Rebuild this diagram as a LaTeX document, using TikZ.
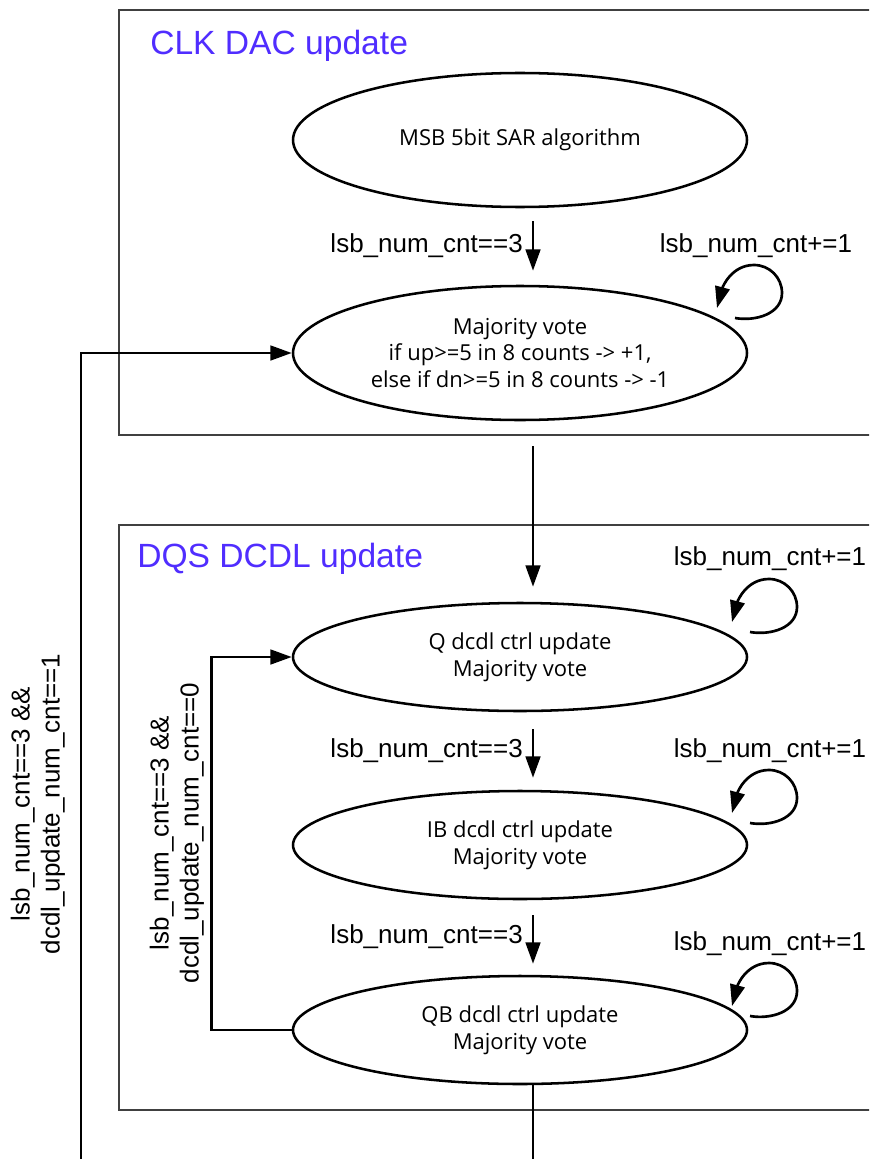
\documentclass[tikz,border=0pt]{standalone}
\usepackage{fontspec}
\setmainfont{Liberation Sans}
\newfontfamily\kfont{Open Sans}
\usetikzlibrary{shapes.geometric,arrows.meta,calc}
\definecolor{hblue}{RGB}{80,45,255}
\definecolor{boxgray}{RGB}{64,64,64}
\begin{document}
\begin{tikzpicture}[x=0.75pt,y=0.75pt,
  state/.style={ellipse, draw, line width=1.9pt, minimum width=340.5pt, inner sep=0pt, align=center, font=\kfont\fontsize{16.5}{20}\selectfont},
  arr/.style={line width=2pt, -{Triangle[length=16pt,width=11pt]}},
  plain/.style={line width=2pt},
  lbl/.style={font=\fontsize{19.5}{22.5}\selectfont, inner sep=0pt},
  region/.style={draw=boxgray, line width=1.2pt},
  head/.style={font=\fontsize{25.2}{30}\selectfont, text=hblue, inner sep=0pt, anchor=base west}]
\useasboundingbox (0,0) rectangle (869,-1159);
\clip (0,0) rectangle (869,-1159);
% regions
\draw[region] (119,-10) rectangle (890,-435);
\draw[region] (119,-525) rectangle (890,-1110);
\node[head] (h1) at (150,-55) {CLK DAC update};
\node[head] (h2) at (137,-567) {DQS DCDL update};
% states
\node[state, minimum height=100.5pt] (e1) at (520,-140) {MSB 5bit SAR algorithm};
\node[state, minimum height=100.5pt] (e2) at (520,-353) {Majority vote\\if up>=5 in 8 counts -> +1,\\else if dn>=5 in 8 counts -> -1};
\node[state, minimum height=81pt] (e3) at (520,-657) {Q dcdl ctrl update\\Majority vote};
\node[state, minimum height=81pt] (e4) at (520,-845) {IB dcdl ctrl update\\Majority vote};
\node[state, minimum height=81pt] (e5) at (520,-1030) {QB dcdl ctrl update\\Majority vote};
% vertical transitions
\draw[arr] ($(e1.south)+(13,-13)$) -- ($(e2.north)+(13,14)$);
\draw[arr] ($(e2.south)+(13,-25)$) -- ($(e3.north)+(13,15)$);
\draw[arr] ($(e3.south)+(13,-17)$) -- ($(e4.north)+(13,12)$);
\draw[arr] ($(e4.south)+(13,-15)$) -- ($(e5.north)+(13,11)$);
\coordinate (bot) at (533,-1170);
\draw[plain] ($(e5.south)+(13,0)$) -- (bot);
\node[lbl, anchor=base east] (t1) at (523,-252) {lsb\_num\_cnt==3};
\node[lbl, anchor=base east] (t2) at (523,-757) {lsb\_num\_cnt==3};
\node[lbl, anchor=base east] (t3) at (523,-943) {lsb\_num\_cnt==3};
% self loops
\node[lbl, anchor=base] (s1) at (756,-252) {lsb\_num\_cnt+=1};
\node[lbl, anchor=base] (s2) at (770,-565) {lsb\_num\_cnt+=1};
\node[lbl, anchor=base] (s3) at (770,-757) {lsb\_num\_cnt+=1};
\node[lbl, anchor=base] (s4) at (770,-950) {lsb\_num\_cnt+=1};
\coordinate (c1) at (754,-293);
\coordinate (c2) at (769,-607);
\coordinate (c3) at (769,-798);
\coordinate (c4) at (769,-991);
\foreach \c in {c1,c2,c3,c4}{
  \draw[arr] ($(\c)+(-19,-25)$) to[out=-10,in=-90] ($(\c)+(28,0)$) to[out=90,in=0] ($(\c)+(0,28)$) to[out=180,in=75] ($(\c)+(-37,-15)$);
}
% feedback loops
\coordinate (outb) at (81,-1170);
\draw[arr] (outb) |- (e2.west);
\draw[arr] (e5.west) -- ++(-80,0) coordinate (ic) |- (e3.west);
\node[lbl, rotate=90, align=center] (r1) at (38,-804) {lsb\_num\_cnt==3 \&\&\\dcdl\_update\_num\_cnt==1};
\node[lbl, rotate=90, align=center] (r2) at (177,-833) {lsb\_num\_cnt==3 \&\&\\dcdl\_update\_num\_cnt==0};
\end{tikzpicture}
\end{document}
